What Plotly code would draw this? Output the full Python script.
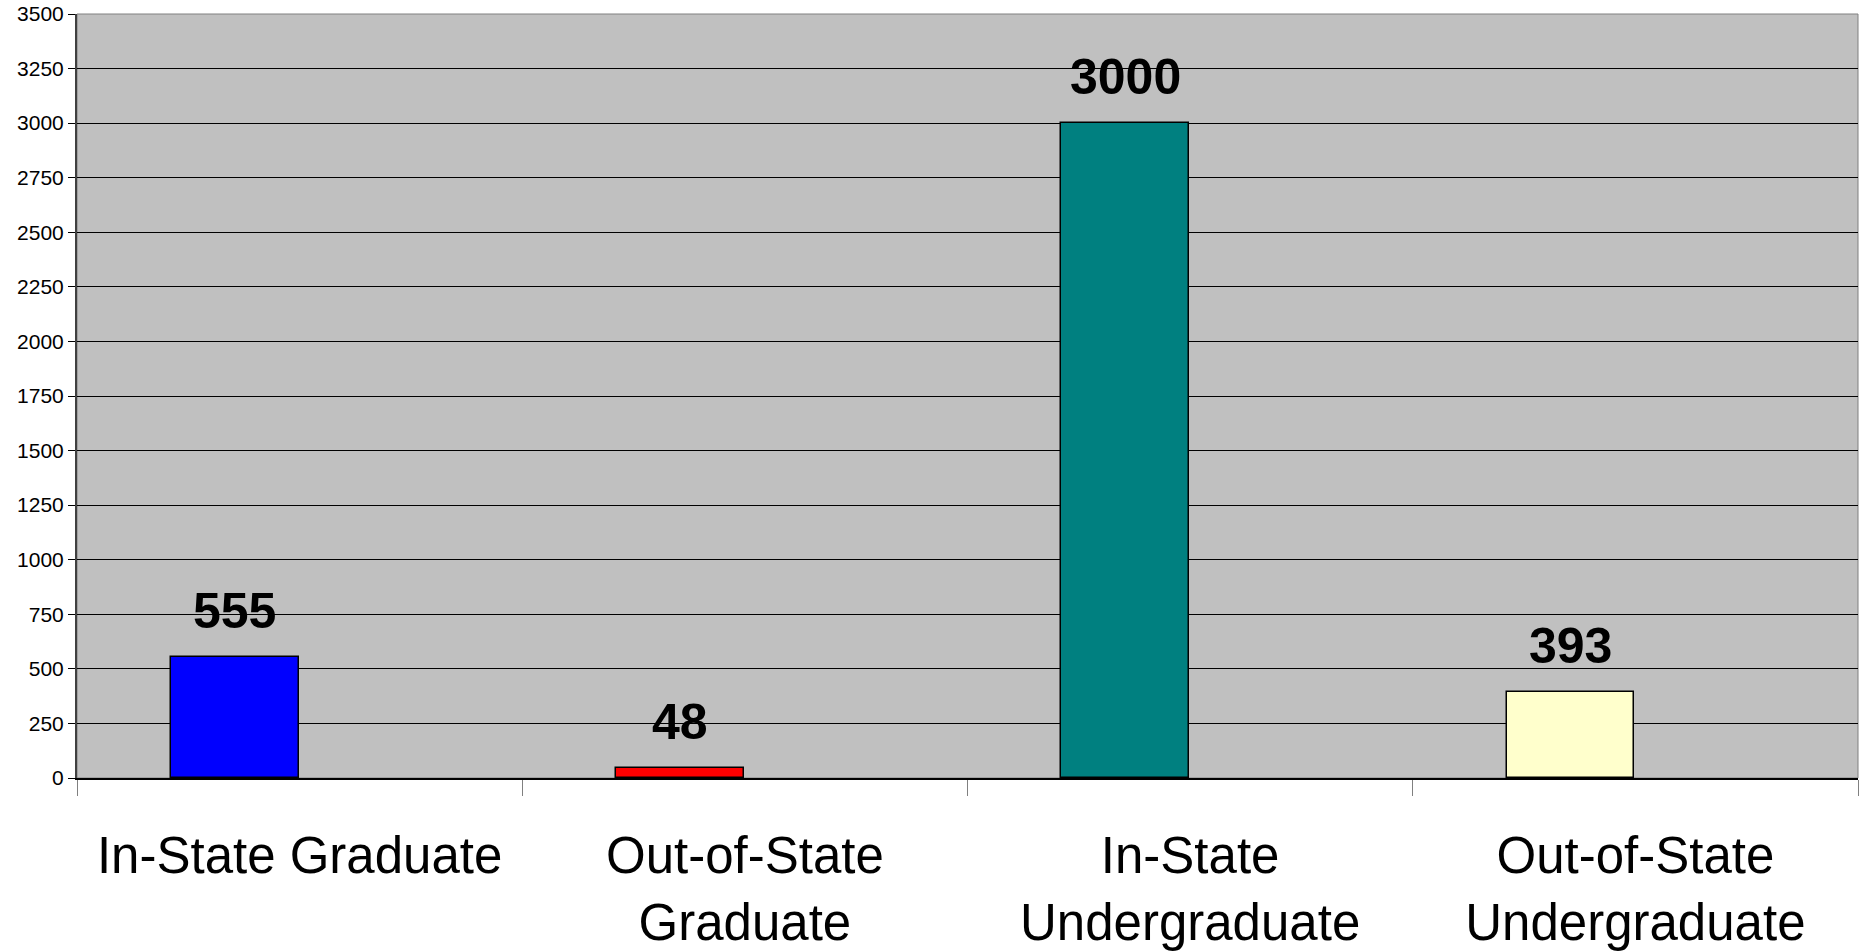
import plotly.graph_objects as go

# Enrollment counts by student residency and level
categories = [
    "In-State Graduate",
    "Out-of-State Graduate",
    "In-State Undergraduate",
    "Out-of-State Undergraduate",
]
tick_labels = [
    "In-State Graduate",
    "Out-of-State<br>Graduate",
    "In-State<br>Undergraduate",
    "Out-of-State<br>Undergraduate",
]
values = [555, 48, 3000, 393]
bar_colors = ["#0000FF", "#FF0000", "#008080", "#FFFFCC"]

y_ticks = list(range(0, 3501, 250))

BAR_WIDTH = 0.287
BAR_OFFSET = -0.289

fig = go.Figure()
fig.add_trace(
    go.Bar(
        x=categories,
        y=values,
        width=BAR_WIDTH,
        offset=BAR_OFFSET,
        marker=dict(color=bar_colors, line=dict(color="#000000", width=1.5)),
        showlegend=False,
        hoverinfo="x+y",
    )
)

# Value labels above each bar
for i, v in enumerate(values):
    fig.add_annotation(
        x=i + BAR_OFFSET + BAR_WIDTH / 2,
        y=v,
        xref="x",
        yref="y",
        text=f"<b>{v}</b>",
        showarrow=False,
        yanchor="bottom",
        yshift=16,
        font=dict(family="Liberation Sans, Arial", size=50, color="#000000"),
    )

fig.update_layout(
    width=1860,
    height=951,
    margin=dict(l=77, r=2, t=14, b=173),
    paper_bgcolor="#FFFFFF",
    plot_bgcolor="#C0C0C0",
    bargap=0,
    font=dict(family="Liberation Sans, Arial", color="#000000"),
    xaxis=dict(
        type="category",
        categoryorder="array",
        categoryarray=categories,
        tickmode="array",
        tickvals=categories,
        ticktext=tick_labels,
        tickson="boundaries",
        ticks="outside",
        ticklen=16,
        tickwidth=1,
        tickcolor="#808080",
        ticklabelstandoff=32,
        tickfont=dict(size=51, family="Liberation Sans, Arial", color="#000000"),
        showgrid=False,
        showline=True,
        linecolor="#000000",
        linewidth=2,
        range=[-0.5, 3.5],
        automargin=False,
    ),
    yaxis=dict(
        range=[0, 3500],
        tickmode="array",
        tickvals=y_ticks,
        ticktext=[str(t) for t in y_ticks],
        ticks="outside",
        ticklen=7,
        tickwidth=1,
        tickcolor="#000000",
        tickfont=dict(size=21, family="Liberation Sans, Arial", color="#000000"),
        showgrid=True,
        gridcolor="#000000",
        gridwidth=1,
        zeroline=False,
        showline=True,
        linecolor="#404040",
        linewidth=2,
        automargin=False,
    ),
    shapes=[
        dict(
            type="rect",
            xref="paper",
            yref="paper",
            x0=0,
            x1=1,
            y0=0,
            y1=1,
            line=dict(color="#808080", width=1),
            layer="below",
        )
    ],
)

fig.write_html("out.html")
